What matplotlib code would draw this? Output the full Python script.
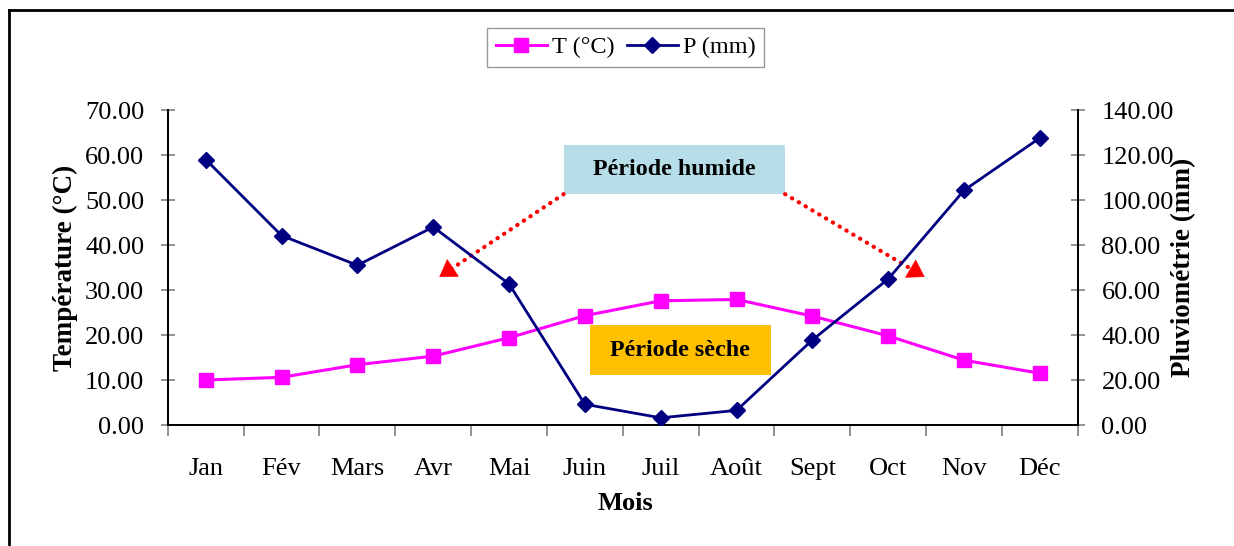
import matplotlib
matplotlib.use("Agg")
import matplotlib.pyplot as plt
from matplotlib.patches import Rectangle
from matplotlib.lines import Line2D

# data
mois = ['Jan', 'Fév', 'Mars', 'Avr', 'Mai', 'Juin', 'Juil', 'Août', 'Sept', 'Oct', 'Nov', 'Déc']
temperature = [10.0, 10.6, 13.4, 15.3, 19.4, 24.3, 27.6, 27.9, 24.2, 19.8, 14.4, 11.5]
pluie = [118.0, 84.2, 71.0, 88.0, 62.7, 9.2, 3.2, 6.5, 37.8, 64.9, 104.3, 127.6]

plt.rcParams['font.family'] = ['Liberation Serif', 'DejaVu Serif']

fig = plt.figure(figsize=(12.34, 5.46), dpi=100)
ax = fig.add_axes([0.136, 0.2216, 0.7374, 0.5769])
ax2 = ax.twinx()

x = list(range(len(mois)))

# temperature on the left axis
ax.plot(x, temperature, color='#FF00FF', lw=2.2, marker='s', markersize=10,
        markerfacecolor='#FF00FF', markeredgecolor='#FF00FF', zorder=3)
# rainfall on the right axis
ax2.plot(x, pluie, color='#000080', lw=2, marker='D', markersize=8,
         markerfacecolor='#000080', markeredgecolor='#000080', zorder=3)

ax.set_xlim(-0.5, 11.5)
ax.set_ylim(0, 70)
ax2.set_ylim(0, 140)
ax.set_yticks(range(0, 71, 10))
ax2.set_yticks(range(0, 141, 20))
ax.yaxis.set_major_formatter(matplotlib.ticker.FormatStrFormatter('%.2f'))
ax2.yaxis.set_major_formatter(matplotlib.ticker.FormatStrFormatter('%.2f'))

ax.set_xticks(x)
ax.set_xticklabels(mois)
ax.set_xticks([i - 0.5 for i in range(13)], minor=True)
ax.tick_params(axis='x', which='major', length=0, pad=24, labelsize=19)
ax.tick_params(axis='x', which='minor', length=8, width=1.2, color='#808080', direction='out')
ax.tick_params(axis='y', length=10, width=1.2, color='#808080', direction='inout', pad=12, labelsize=19)
ax2.tick_params(axis='y', length=10, width=1.2, color='#808080', direction='inout', pad=12, labelsize=19)

for a in (ax, ax2):
    a.spines['top'].set_visible(False)
    for s in ('left', 'right', 'bottom'):
        a.spines[s].set_linewidth(1.3)
        a.spines[s].set_color('black')

ax.set_ylabel('Température (°C)', fontsize=19.5, fontweight='bold')
ax.yaxis.set_label_coords(-0.112, 0.5)
ax.yaxis.label.set_va('center')
ax2.set_ylabel('Pluviométrie (mm)', fontsize=19.5, fontweight='bold', rotation=90)
ax2.yaxis.set_label_coords(1.116, 0.5)
ax2.yaxis.label.set_va('center')
ax.set_xlabel('Mois', fontsize=19, fontweight='bold')
ax.xaxis.set_label_coords(0.503, -0.248)
ax.xaxis.label.set_va('center')

# annotation boxes
ax.add_patch(Rectangle((4.72, 51.3), 2.92, 10.9, facecolor='#B7DDE8', edgecolor='none',
                       zorder=4, clip_on=False))
ax.text(6.18, 56.8, 'Période humide', ha='center', va='center', fontsize=17.3,
        fontweight='bold', zorder=5)
ax.add_patch(Rectangle((5.07, 11.1), 2.38, 11.1, facecolor='#FFC000', edgecolor='none',
                       zorder=4, clip_on=False))
ax.text(6.26, 16.6, 'Période sèche', ha='center', va='center', fontsize=17.3,
        fontweight='bold', zorder=5)

# red dotted lines with solid arrow heads
for x0, y0, x1, y1 in [(4.72, 51.3, 3.08, 32.9), (7.64, 51.3, 9.48, 32.9)]:
    xh = x1 + (x0 - x1) * 0.08
    yh = y1 + (y0 - y1) * 0.08
    ax.plot([x0, xh], [y0, yh], color='red', lw=3, linestyle=(0, (0.1, 1.8)),
            dash_capstyle='round', zorder=6, clip_on=False)
    ax.annotate('', xy=(x1, y1), xytext=(xh, yh), zorder=6,
                arrowprops=dict(arrowstyle='-|>,head_length=0.7,head_width=0.45',
                                color='red', lw=0.5, mutation_scale=16,
                                shrinkA=0, shrinkB=0))

# legend
handles = [Line2D([], [], color='#FF00FF', lw=2.2, marker='s', markersize=10),
           Line2D([], [], color='#000080', lw=2, marker='D', markersize=8)]
leg = fig.legend(handles, ['T (°C)', 'P (mm)'], loc='center', bbox_to_anchor=(0.507, 0.913),
                 ncol=2, fontsize=17.5, frameon=True, fancybox=False, edgecolor='#808080',
                 handlelength=2.1, columnspacing=0.5, handletextpad=0.2, borderpad=0.35)
leg.get_frame().set_linewidth(1.0)

# outer frame of the chart area
fig.add_artist(Line2D([0.0073, 0.0073], [0.0, 0.9817], transform=fig.transFigure,
                      color='black', lw=2))
fig.add_artist(Line2D([0.0073, 1.0], [0.9817, 0.9817], transform=fig.transFigure,
                      color='black', lw=2))

fig.savefig('out.png', dpi=100)
